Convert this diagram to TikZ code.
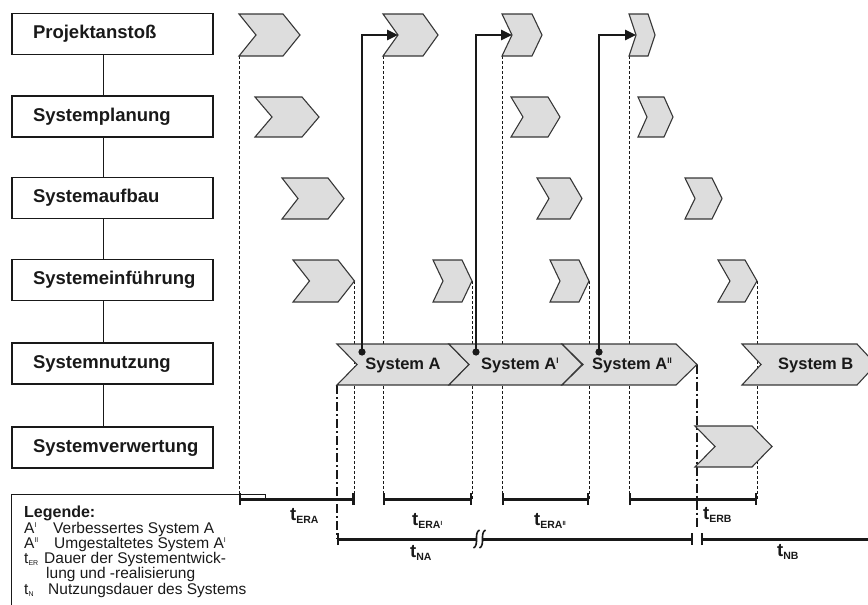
\documentclass[tikz,border=0pt]{standalone}
\usepackage{fontspec}
\setmainfont{Liberation Sans}
\usetikzlibrary{arrows.meta}
\pgfdeclarelayer{bg}
\pgfsetlayers{bg,main}
\definecolor{chevfill}{RGB}{221,221,221}
\definecolor{chevline}{RGB}{55,55,55}
\definecolor{ink}{RGB}{25,25,25}
\newcommand{\mychev}[6]{%
  \pgfmathsetmacro{\chm}{(#5+#6)/2}%
  \pgfmathsetmacro{\cht}{#3+#4}%
  \pgfmathsetmacro{\chn}{#2+#4}%
  \draw[chevsty] (#2,#5) -- (#3,#5) -- (\cht,\chm) -- (#3,#6) -- (#2,#6) -- (\chn,\chm) -- cycle;
  \coordinate (#1-bl) at (#2,#6);
  \coordinate (#1-tip) at (\cht,\chm);
  \coordinate (#1-notch) at (\chn,\chm);
}
\newcommand{\bsupr}[1]{\raisebox{6pt}{\fontsize{8}{8}\selectfont #1}}
\newcommand{\lsupr}[1]{\raisebox{6pt}{\fontsize{7}{7}\selectfont #1}}
\newcommand{\lsubr}[1]{\raisebox{-2pt}{\fontsize{7}{7}\selectfont #1}}
\newcommand{\tlab}[1]{{\fontsize{18.5}{18.5}\selectfont\bfseries t}\raisebox{-3pt}{\fontsize{10.5}{10.5}\selectfont\bfseries #1}}
\begin{document}
\begin{tikzpicture}[x=1pt,y=-1pt,
  chevsty/.style={fill=chevfill,draw=chevline,line width=1.1pt,line join=miter},
  pbox/.style={draw=ink,line width=1.6pt,rectangle,minimum width=201pt,minimum height=41pt,
    inner xsep=21pt,text width=159pt,align=left,text height=13pt,text depth=4pt,
    font=\fontsize{18.5}{20}\selectfont\bfseries,text=ink},
  conn/.style={draw=ink,line width=1pt},
  dsh/.style={draw=ink,line width=0.9pt,dash pattern=on 3pt off 2pt},
  ddot/.style={draw=ink,line width=2.6pt,dash pattern=on 9pt off 3pt on 2pt off 3pt},
  tsty/.style={draw=ink,line width=3pt},
  tick/.tip={Bar[width=12pt,line width=2.2pt]},
  fb/.style={draw=ink,line width=2.5pt,-{Triangle[length=11pt,width=10pt]}},
  stxt/.style={inner sep=0pt,anchor=base,font=\fontsize{16.5}{18}\selectfont\bfseries,text=ink},
  lg/.style={inner sep=0pt,anchor=base west,font=\fontsize{15.5}{15.5}\selectfont,text=ink},
  tl/.style={inner sep=0pt,anchor=base west,text=ink}
]
\useasboundingbox (0,0) rectangle (868,605);

% left column of phase boxes
\node[pbox] (b1) at (112.5,34) {Projektanstoß};
\node[pbox] (b2) at (112.5,116.5) {Systemplanung};
\node[pbox] (b3) at (112.5,198) {Systemaufbau};
\node[pbox] (b4) at (112.5,280) {Systemeinführung};
\node[pbox] (b5) at (112.5,363.5) {Systemnutzung};
\node[pbox] (b6) at (112.5,447.5) {Systemverwertung};
\draw[conn] ([xshift=-9.5pt]b1.south) -- ([xshift=-9.5pt]b2.north);
\draw[conn] ([xshift=-9.5pt]b2.south) -- ([xshift=-9.5pt]b3.north);
\draw[conn] ([xshift=-9.5pt]b3.south) -- ([xshift=-9.5pt]b4.north);
\draw[conn] ([xshift=-9.5pt]b4.south) -- ([xshift=-9.5pt]b5.north);
\draw[conn] ([xshift=-9.5pt]b5.south) -- ([xshift=-9.5pt]b6.north);

% chevrons
\mychev{c11}{239}{283}{17}{14}{56}
\mychev{c12}{383}{423}{15}{14}{56}
\mychev{c13}{502}{532}{10}{14}{56}
\mychev{c14}{629}{648}{7}{14}{56}
\mychev{c21}{255}{302}{17}{97}{137}
\mychev{c22}{511}{548}{12}{97}{137}
\mychev{c23}{638}{664}{9}{97}{137}
\mychev{c31}{282}{328}{16}{178}{219}
\mychev{c32}{537}{570}{12}{178}{219}
\mychev{c33}{685}{712}{10}{178}{219}
\mychev{c41}{293}{338}{16.5}{260}{302}
\mychev{c42}{433}{462}{10}{260}{302}
\mychev{c43}{550}{579}{10}{260}{302}
\mychev{c44}{718}{745}{12}{260}{302}
\mychev{cA}{337}{449}{20}{344}{385}
\mychev{cA1}{449}{562}{20}{344}{385}
\mychev{cA2}{562}{676}{21}{344}{385}
\mychev{cB}{742}{857}{19}{344}{385}
\mychev{cV}{695}{752}{20}{426}{467}

\node[stxt] (sA) at (403,369.5) {System A};
\node[stxt,anchor=base west] (sA1) at (481,369.5) {System A\bsupr{I}};
\node[stxt,anchor=base west] (sA2) at (592,369.5) {System A\bsupr{II}};
\node[stxt,anchor=base west] (sB) at (778,369.5) {System B};

% reference levels
\coordinate (tly) at (0,499);
\coordinate (tny) at (0,539);

% dashed guide lines behind the chevrons
\begin{pgfonlayer}{bg}
\draw[dsh] (c11-bl) -- (c11-bl |- tly);
\draw[dsh] (c41-tip) -- (c41-tip |- tly);
\draw[dsh] (c12-bl) -- (c12-bl |- tly);
\draw[dsh] (c42-tip) -- (c42-tip |- tly);
\draw[dsh] (c13-bl) -- (c13-bl |- tly);
\draw[dsh] (c43-tip) -- (c43-tip |- tly);
\draw[dsh] (c14-bl) -- (c14-bl |- tly);
\draw[dsh] (c44-tip) -- (c44-tip |- tly);
\draw[ddot] (cA-bl) -- (cA-bl |- tny);
\draw[ddot] (cA2-tip) -- ([yshift=10pt]cA2-tip |- tny);
\end{pgfonlayer}

% legend frame
\draw[draw=ink,line width=1pt] (11,612) -- (11,494) -- (265,494) -- (265,501);

% timelines
\draw[tsty,tick-tick] (c11-bl |- tly) -- (c41-tip |- tly);
\draw[tsty,tick-tick] (c12-bl |- tly) -- (c42-tip |- tly);
\draw[tsty,tick-tick] (c13-bl |- tly) -- (c43-tip |- tly);
\draw[tsty,tick-tick] (c14-bl |- tly) -- (c44-tip |- tly);
\draw[tsty,tick-tick] (cA-bl |- tny) -- ([xshift=-4pt]cA2-tip |- tny);
\coordinate (tnbend) at (880,539);
\draw[tsty,tick-] ([xshift=4pt]cA2-tip |- tny) -- (tnbend);
% break mark
\coordinate (brk) at (479.5,539);
\fill[white] ([xshift=-3pt,yshift=6pt]brk) rectangle ([xshift=3pt,yshift=-6pt]brk);
\draw[draw=ink,line width=1.6pt] ([xshift=-6pt,yshift=-9pt]brk) .. controls ([xshift=0pt,yshift=-6pt]brk) and ([xshift=-6pt,yshift=6pt]brk) .. ([xshift=0pt,yshift=9pt]brk);
\draw[draw=ink,line width=1.6pt] ([xshift=0pt,yshift=-9pt]brk) .. controls ([xshift=6pt,yshift=-6pt]brk) and ([xshift=0pt,yshift=6pt]brk) .. ([xshift=6pt,yshift=9pt]brk);

% feedback arrows
\coordinate (fA) at (362,352);
\coordinate (fA1) at (476,352);
\coordinate (fA2) at (599,352);
\draw[fb] (fA) |- (c12-notch);
\draw[fb] (fA1) |- (c13-notch);
\draw[fb] (fA2) |- (c14-notch);
\fill[ink] (fA) circle (3.6pt);
\fill[ink] (fA1) circle (3.6pt);
\fill[ink] (fA2) circle (3.6pt);

% time labels
\node[tl] (lERA) at (290,520) {\tlab{ERA}};
\node[tl] (lERA1) at (412,525) {\tlab{ERA\raisebox{3pt}{\fontsize{6}{6}\selectfont I}}};
\node[tl] (lERA2) at (534,525) {\tlab{ERA\raisebox{3pt}{\fontsize{6}{6}\selectfont II}}};
\node[tl] (lERB) at (703,519) {\tlab{ERB}};
\node[tl] (lNA) at (410,557) {\tlab{NA}};
\node[tl] (lNB) at (777,556) {\tlab{NB}};

% legend
\node[lg,font=\fontsize{16}{16}\selectfont\bfseries] (lg0) at (24,517) {Legende:};
\node[lg] (lg1a) at (24,533) {A\lsupr{I}};
\node[lg] (lg1b) at (53,533) {Verbessertes System A};
\node[lg] (lg2a) at (24,548) {A\lsupr{II}};
\node[lg] (lg2b) at (54,548) {Umgestaltetes System A\lsupr{I}};
\node[lg] (lg3a) at (24,563) {t\lsubr{ER}};
\node[lg] (lg3b) at (44,563) {Dauer der Systementwick-};
\node[lg] (lg4b) at (46,578.5) {lung und -realisierung};
\node[lg] (lg5a) at (24,594) {t\lsubr{N}};
\node[lg] (lg5b) at (48,594) {Nutzungsdauer des Systems};
\end{tikzpicture}
\end{document}
